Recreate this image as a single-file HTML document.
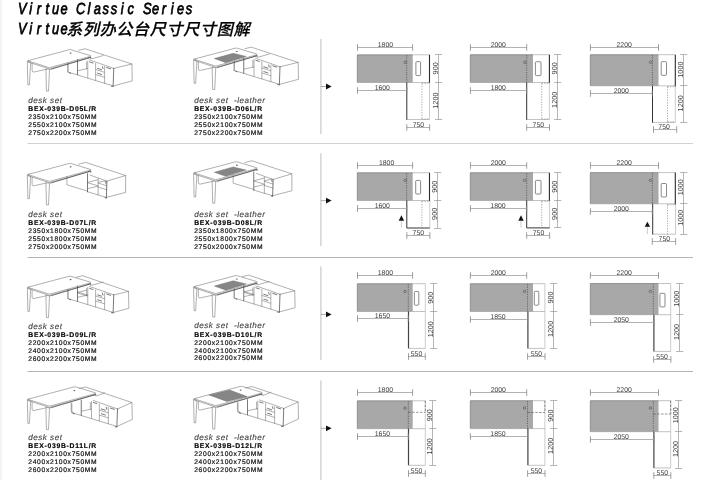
<!DOCTYPE html>
<html lang="zh">
<head>
<meta charset="utf-8">
<title>Virtue Classic Series</title>
<style>
html,body{margin:0;padding:0;background:#fff;}
body{width:720px;height:480px;overflow:hidden;position:relative;font-family:"Liberation Sans",sans-serif;}
#edge{position:absolute;left:0;top:0;width:1.5px;height:480px;background:#f3f3f3;}
svg{position:absolute;left:0;top:0;}
body{filter:grayscale(1);}
svg text{font-family:"Liberation Sans",sans-serif;text-rendering:geometricPrecision;}
.tt{font-size:16px;font-style:italic;fill:#000;stroke:#000;stroke-width:0.75px;}
.dm{font-size:6.9px;fill:#3c3c3c;}
.dv{font-size:7.3px;}
.ds{font-size:8.1px;font-style:italic;fill:#444;stroke:#444;stroke-width:0.12px;}
.bx{font-size:6.8px;font-weight:bold;fill:#000;stroke:#000;stroke-width:0.15px;}
.sz{font-size:6.7px;fill:#141414;stroke:#141414;stroke-width:0.22px;}
.ln{stroke:#6e6e6e;stroke-width:0.55;fill:none;stroke-linejoin:round;stroke-linecap:round;}
.lk{stroke:#404040;stroke-width:0.7;fill:none;stroke-linecap:round;}
</style>
</head>
<body>
<div id="edge"></div>
<svg width="720" height="480" viewBox="0 0 720 480">
<title>Virtue系列办公台尺寸尺寸图解</title>
<line x1="27.5" y1="143.5" x2="693" y2="143.5" stroke="#d2d2d2" stroke-width="1"/>
<line x1="27.5" y1="257.5" x2="693" y2="257.5" stroke="#b4b4b4" stroke-width="1"/>
<line x1="27.5" y1="371.5" x2="693" y2="371.5" stroke="#b4b4b4" stroke-width="1"/>
<line x1="320.9" y1="39" x2="320.9" y2="134" stroke="#d4d4d4" stroke-width="1.5"/>
<line x1="320.8" y1="86.5" x2="327" y2="86.5" stroke="#777" stroke-width="0.6"/>
<path d="M326 83.6L331.6 86.5L326 89.4Z" fill="#111"/>
<line x1="320.9" y1="153.3" x2="320.9" y2="246" stroke="#d4d4d4" stroke-width="1.5"/>
<line x1="320.8" y1="200.6" x2="327" y2="200.6" stroke="#777" stroke-width="0.6"/>
<path d="M326 197.7L331.6 200.6L326 203.5Z" fill="#111"/>
<line x1="320.9" y1="266.5" x2="320.9" y2="360" stroke="#d4d4d4" stroke-width="1.5"/>
<line x1="320.8" y1="314.4" x2="327" y2="314.4" stroke="#777" stroke-width="0.6"/>
<path d="M326 311.5L331.6 314.4L326 317.3Z" fill="#111"/>
<line x1="320.9" y1="380.4" x2="320.9" y2="480" stroke="#d4d4d4" stroke-width="1.5"/>
<line x1="320.8" y1="428.3" x2="327" y2="428.3" stroke="#777" stroke-width="0.6"/>
<path d="M326 425.4L331.6 428.3L326 431.2Z" fill="#111"/>
<rect x="357.3" y="54.8" width="55.4" height="27.7" fill="#a8a8a8"/>
<path d="M357.3 82.5V54.8H412.7" stroke="#6a6a6a" stroke-width="0.6" fill="none"/>
<path d="M357.3 82.5H412.7" stroke="#8a8a8a" stroke-width="0.5" fill="none"/>
<path d="M412.7 54.8H429.5M412.7 82.5H429.5" stroke="#9a9a9a" stroke-width="0.6" fill="none"/>
<line x1="429.5" y1="54.8" x2="429.5" y2="83.1" stroke="#2a2a2a" stroke-width="1.1"/>
<line x1="406.7" y1="55.3" x2="406.7" y2="82.5" stroke="#484848" stroke-width="0.7" stroke-dasharray="1.2 1.2"/>
<circle cx="405.2" cy="62.3" r="1.25" fill="none" stroke="#444" stroke-width="0.55"/>
<line x1="429.5" y1="82.5" x2="429.5" y2="119.5" stroke="#aaa" stroke-width="0.6"/>
<line x1="406.8" y1="119.5" x2="429.5" y2="119.5" stroke="#9a9a9a" stroke-width="0.6"/>
<line x1="406.8" y1="82.5" x2="406.8" y2="119.8" stroke="#333" stroke-width="1"/>
<path d="M421.9 83.4V119.5M421.9 83.4H429.5M421.9 119H429.5" stroke="#777" stroke-width="0.6" stroke-dasharray="1.3 1.3" fill="none"/>
<rect x="415.9" y="61.6" width="4.7" height="14" rx="0.9" fill="#fff" stroke="#585858" stroke-width="0.7"/>
<path d="M357.5 47.5H412.6" stroke="#b2b2b2" stroke-width="1" fill="none"/>
<path d="M357.5 44.2V50.8M412.6 44.2V50.8" stroke="#858585" stroke-width="0.8" fill="none"/>
<text x="385.4" y="46.7" text-anchor="middle" class="dm">1800</text>
<path d="M357.5 90.5H406.8" stroke="#b2b2b2" stroke-width="1" fill="none"/>
<path d="M357.5 87.2V93.8M406.8 87.2V93.8" stroke="#858585" stroke-width="0.8" fill="none"/>
<text x="382.3" y="89.7" text-anchor="middle" class="dm">1600</text>
<path d="M406.8 127.5H429.6" stroke="#b2b2b2" stroke-width="1" fill="none"/>
<path d="M406.8 124.2V130.8M429.6 124.2V130.8" stroke="#858585" stroke-width="0.8" fill="none"/>
<text x="418.4" y="126.5" text-anchor="middle" class="dm">750</text>
<path d="M438.5 54.8V119.5M435.1 54.5H442.3M435.1 82.5H442.3M435.1 119.5H442.3" stroke="#969696" stroke-width="0.7" fill="none"/>
<text transform="translate(438.1 68.3) rotate(-90)" text-anchor="middle" class="dm dv">900</text>
<text transform="translate(438.1 100.6) rotate(-90)" text-anchor="middle" class="dm dv">1200</text>
<rect x="470.3" y="54.7" width="62.7" height="27.8" fill="#a8a8a8"/>
<path d="M470.3 82.5V54.7H533" stroke="#6a6a6a" stroke-width="0.6" fill="none"/>
<path d="M470.3 82.5H533" stroke="#8a8a8a" stroke-width="0.5" fill="none"/>
<path d="M533 54.7H549.4M533 82.5H549.4" stroke="#9a9a9a" stroke-width="0.6" fill="none"/>
<line x1="549.4" y1="54.7" x2="549.4" y2="83.1" stroke="#2a2a2a" stroke-width="1.1"/>
<line x1="526.7" y1="55.2" x2="526.7" y2="82.5" stroke="#484848" stroke-width="0.7" stroke-dasharray="1.2 1.2"/>
<circle cx="524.8" cy="62.3" r="1.25" fill="none" stroke="#444" stroke-width="0.55"/>
<line x1="549.4" y1="82.5" x2="549.4" y2="119.5" stroke="#aaa" stroke-width="0.6"/>
<line x1="526.7" y1="119.5" x2="549.4" y2="119.5" stroke="#9a9a9a" stroke-width="0.6"/>
<line x1="526.7" y1="82.5" x2="526.7" y2="119.8" stroke="#333" stroke-width="1"/>
<path d="M541.7 83.4V119.5M541.7 83.4H549.4M541.7 119H549.4" stroke="#777" stroke-width="0.6" stroke-dasharray="1.3 1.3" fill="none"/>
<rect x="535.4" y="61.7" width="5.6" height="13.9" rx="0.9" fill="#fff" stroke="#585858" stroke-width="0.7"/>
<path d="M470.4 47.5H526.7" stroke="#b2b2b2" stroke-width="1" fill="none"/>
<path d="M470.4 44.2V50.8M526.7 44.2V50.8" stroke="#858585" stroke-width="0.8" fill="none"/>
<text x="498.3" y="46.7" text-anchor="middle" class="dm">2000</text>
<path d="M470.4 90.5H526.7" stroke="#b2b2b2" stroke-width="1" fill="none"/>
<path d="M470.4 87.2V93.8M526.7 87.2V93.8" stroke="#858585" stroke-width="0.8" fill="none"/>
<text x="498.3" y="89.7" text-anchor="middle" class="dm">1800</text>
<path d="M526.7 127.5H549.5" stroke="#b2b2b2" stroke-width="1" fill="none"/>
<path d="M526.7 124.2V130.8M549.5 124.2V130.8" stroke="#858585" stroke-width="0.8" fill="none"/>
<text x="538.3" y="126.5" text-anchor="middle" class="dm">750</text>
<path d="M557.5 54.7V119.5M554.1 54.5H561.3M554.1 82.5H561.3M554.1 119.5H561.3" stroke="#969696" stroke-width="0.7" fill="none"/>
<text transform="translate(557.1 68.3) rotate(-90)" text-anchor="middle" class="dm dv">900</text>
<text transform="translate(557.1 99.8) rotate(-90)" text-anchor="middle" class="dm dv">1200</text>
<rect x="590.3" y="54.7" width="68.2" height="31.1" fill="#a8a8a8"/>
<path d="M590.3 85.8V54.7H658.5" stroke="#6a6a6a" stroke-width="0.6" fill="none"/>
<path d="M590.3 85.8H658.5" stroke="#8a8a8a" stroke-width="0.5" fill="none"/>
<path d="M658.5 54.7H675.3M658.5 85.8H675.3" stroke="#9a9a9a" stroke-width="0.6" fill="none"/>
<line x1="675.3" y1="54.7" x2="675.3" y2="86.4" stroke="#2a2a2a" stroke-width="1.1"/>
<line x1="652.4" y1="55.2" x2="652.4" y2="85.8" stroke="#484848" stroke-width="0.7" stroke-dasharray="1.2 1.2"/>
<circle cx="650.6" cy="62.3" r="1.25" fill="none" stroke="#444" stroke-width="0.55"/>
<line x1="675.3" y1="85.8" x2="675.3" y2="122.4" stroke="#aaa" stroke-width="0.6"/>
<line x1="652.5" y1="122.4" x2="675.3" y2="122.4" stroke="#9a9a9a" stroke-width="0.6"/>
<line x1="652.5" y1="85.8" x2="652.5" y2="122.7" stroke="#333" stroke-width="1"/>
<path d="M667.5 86.7V122.4M667.5 86.7H675.3M667.5 121.9H675.3" stroke="#777" stroke-width="0.6" stroke-dasharray="1.3 1.3" fill="none"/>
<rect x="661.2" y="61.7" width="5.3" height="13.6" rx="0.9" fill="#fff" stroke="#585858" stroke-width="0.7"/>
<path d="M590.4 47.5H658.5" stroke="#b2b2b2" stroke-width="1" fill="none"/>
<path d="M590.4 44.2V50.8M658.5 44.2V50.8" stroke="#858585" stroke-width="0.8" fill="none"/>
<text x="624.2" y="46.7" text-anchor="middle" class="dm">2200</text>
<path d="M590.4 93.5H652.3" stroke="#b2b2b2" stroke-width="1" fill="none"/>
<path d="M590.4 90.2V96.8M652.3 90.2V96.8" stroke="#858585" stroke-width="0.8" fill="none"/>
<text x="621.3" y="92.7" text-anchor="middle" class="dm">2000</text>
<path d="M653.5 129.5H676.7" stroke="#b2b2b2" stroke-width="1" fill="none"/>
<path d="M653.5 126.2V132.8M676.7 126.2V132.8" stroke="#858585" stroke-width="0.8" fill="none"/>
<text x="664.1" y="128.5" text-anchor="middle" class="dm">750</text>
<path d="M683.5 54.7V122.4M680.1 54.5H687.3M680.1 85.5H687.3M680.1 122.5H687.3" stroke="#969696" stroke-width="0.7" fill="none"/>
<text transform="translate(683.1 69.6) rotate(-90)" text-anchor="middle" class="dm dv">1000</text>
<text transform="translate(683.1 103.3) rotate(-90)" text-anchor="middle" class="dm dv">1200</text>
<rect x="357.3" y="172.75" width="55.4" height="27.75" fill="#a8a8a8"/>
<path d="M357.3 200.5V172.75H412.7" stroke="#6a6a6a" stroke-width="0.6" fill="none"/>
<path d="M357.3 200.5H412.7" stroke="#8a8a8a" stroke-width="0.5" fill="none"/>
<path d="M412.7 172.75H429.5M412.7 200.5H429.5" stroke="#9a9a9a" stroke-width="0.6" fill="none"/>
<line x1="429.5" y1="172.75" x2="429.5" y2="201.1" stroke="#2a2a2a" stroke-width="1.1"/>
<line x1="406.7" y1="173.25" x2="406.7" y2="200.5" stroke="#484848" stroke-width="0.7" stroke-dasharray="1.2 1.2"/>
<circle cx="405.2" cy="180.4" r="1.25" fill="none" stroke="#444" stroke-width="0.55"/>
<line x1="429.8" y1="200.5" x2="429.8" y2="228" stroke="#aaa" stroke-width="0.6"/>
<path d="M406.8 200.5V228H429.8" stroke="#333" stroke-width="1" fill="none"/>
<path d="M421.9 201.4V228M421.9 201.4H429.8" stroke="#777" stroke-width="0.6" stroke-dasharray="1.3 1.3" fill="none"/>
<rect x="415.7" y="180.4" width="4.9" height="13.6" rx="0.9" fill="#fff" stroke="#585858" stroke-width="0.7"/>
<path d="M357.5 165.5H412.6" stroke="#b2b2b2" stroke-width="1" fill="none"/>
<path d="M357.5 162.2V168.8M412.6 162.2V168.8" stroke="#858585" stroke-width="0.8" fill="none"/>
<text x="386.6" y="164.7" text-anchor="middle" class="dm">1800</text>
<path d="M357.5 208.5H406.8" stroke="#b2b2b2" stroke-width="1" fill="none"/>
<path d="M357.5 205.2V211.8M406.8 205.2V211.8" stroke="#858585" stroke-width="0.8" fill="none"/>
<text x="382.3" y="207.7" text-anchor="middle" class="dm">1600</text>
<path d="M406.8 235.5H429.9" stroke="#b2b2b2" stroke-width="1" fill="none"/>
<path d="M406.8 232.2V238.8M429.9 232.2V238.8" stroke="#858585" stroke-width="0.8" fill="none"/>
<text x="418.3" y="234.5" text-anchor="middle" class="dm">750</text>
<path d="M437.5 172.75V228M434.1 172.5H441.3M434.1 200.5H441.3M434.1 228.5H441.3" stroke="#969696" stroke-width="0.7" fill="none"/>
<text transform="translate(437.1 186.7) rotate(-90)" text-anchor="middle" class="dm dv">900</text>
<text transform="translate(437.1 213.8) rotate(-90)" text-anchor="middle" class="dm dv">900</text>
<line x1="401.4" y1="220.7" x2="401.4" y2="227.5" stroke="#aaa" stroke-width="0.6"/>
<path d="M398.7 220.7L401.4 215.2L404.1 220.7Z" fill="#111"/>
<rect x="470.3" y="172.7" width="62.7" height="27.8" fill="#a8a8a8"/>
<path d="M470.3 200.5V172.7H533" stroke="#6a6a6a" stroke-width="0.6" fill="none"/>
<path d="M470.3 200.5H533" stroke="#8a8a8a" stroke-width="0.5" fill="none"/>
<path d="M533 172.7H549.4M533 200.5H549.4" stroke="#9a9a9a" stroke-width="0.6" fill="none"/>
<line x1="549.4" y1="172.7" x2="549.4" y2="201.1" stroke="#2a2a2a" stroke-width="1.1"/>
<line x1="526.7" y1="173.2" x2="526.7" y2="200.5" stroke="#484848" stroke-width="0.7" stroke-dasharray="1.2 1.2"/>
<circle cx="524.6" cy="180.4" r="1.25" fill="none" stroke="#444" stroke-width="0.55"/>
<line x1="549.6" y1="200.5" x2="549.6" y2="227.9" stroke="#aaa" stroke-width="0.6"/>
<path d="M526.7 200.5V227.9H549.6" stroke="#333" stroke-width="1" fill="none"/>
<path d="M541.7 201.4V227.9M541.7 201.4H549.6" stroke="#777" stroke-width="0.6" stroke-dasharray="1.3 1.3" fill="none"/>
<rect x="535.4" y="180.4" width="5.6" height="13.6" rx="0.9" fill="#fff" stroke="#585858" stroke-width="0.7"/>
<path d="M470.4 165.5H526.7" stroke="#b2b2b2" stroke-width="1" fill="none"/>
<path d="M470.4 162.2V168.8M526.7 162.2V168.8" stroke="#858585" stroke-width="0.8" fill="none"/>
<text x="498.3" y="164.7" text-anchor="middle" class="dm">2000</text>
<path d="M470.4 208.5H526.7" stroke="#b2b2b2" stroke-width="1" fill="none"/>
<path d="M470.4 205.2V211.8M526.7 205.2V211.8" stroke="#858585" stroke-width="0.8" fill="none"/>
<text x="498" y="207.7" text-anchor="middle" class="dm">1800</text>
<path d="M526.7 235.5H549.6" stroke="#b2b2b2" stroke-width="1" fill="none"/>
<path d="M526.7 232.2V238.8M549.6 232.2V238.8" stroke="#858585" stroke-width="0.8" fill="none"/>
<text x="538.5" y="234.5" text-anchor="middle" class="dm">750</text>
<path d="M557.5 172.7V227.9M554.1 172.5H561.3M554.1 200.5H561.3M554.1 227.5H561.3" stroke="#969696" stroke-width="0.7" fill="none"/>
<text transform="translate(557.1 186.7) rotate(-90)" text-anchor="middle" class="dm dv">900</text>
<text transform="translate(557.1 213.8) rotate(-90)" text-anchor="middle" class="dm dv">900</text>
<line x1="521" y1="220.7" x2="521" y2="227.5" stroke="#aaa" stroke-width="0.6"/>
<path d="M518.3 220.7L521 215.2L523.7 220.7Z" fill="#111"/>
<rect x="590.3" y="172.6" width="68.2" height="31.2" fill="#a8a8a8"/>
<path d="M590.3 203.8V172.6H658.5" stroke="#6a6a6a" stroke-width="0.6" fill="none"/>
<path d="M590.3 203.8H658.5" stroke="#8a8a8a" stroke-width="0.5" fill="none"/>
<path d="M658.5 172.6H675.3M658.5 203.8H675.3" stroke="#9a9a9a" stroke-width="0.6" fill="none"/>
<line x1="675.3" y1="172.6" x2="675.3" y2="204.4" stroke="#2a2a2a" stroke-width="1.1"/>
<line x1="652.4" y1="173.1" x2="652.4" y2="203.8" stroke="#484848" stroke-width="0.7" stroke-dasharray="1.2 1.2"/>
<circle cx="650.4" cy="180.4" r="1.25" fill="none" stroke="#444" stroke-width="0.55"/>
<line x1="675.6" y1="203.8" x2="675.6" y2="234.2" stroke="#aaa" stroke-width="0.6"/>
<line x1="652.7" y1="234.2" x2="675.6" y2="234.2" stroke="#9a9a9a" stroke-width="0.6"/>
<line x1="652.7" y1="203.8" x2="652.7" y2="234.5" stroke="#333" stroke-width="1"/>
<path d="M667.5 204.7V234.2M667.5 204.7H675.6" stroke="#777" stroke-width="0.6" stroke-dasharray="1.3 1.3" fill="none"/>
<rect x="661.2" y="183.5" width="5.3" height="13.5" rx="0.9" fill="#fff" stroke="#585858" stroke-width="0.7"/>
<path d="M590.4 165.5H658.5" stroke="#b2b2b2" stroke-width="1" fill="none"/>
<path d="M590.4 162.2V168.8M658.5 162.2V168.8" stroke="#858585" stroke-width="0.8" fill="none"/>
<text x="624.2" y="164.7" text-anchor="middle" class="dm">2200</text>
<path d="M590.4 211.5H652.3" stroke="#b2b2b2" stroke-width="1" fill="none"/>
<path d="M590.4 208.2V214.8M652.3 208.2V214.8" stroke="#858585" stroke-width="0.8" fill="none"/>
<text x="621.3" y="210.7" text-anchor="middle" class="dm">2000</text>
<path d="M652.3 241.5H675.6" stroke="#b2b2b2" stroke-width="1" fill="none"/>
<path d="M652.3 238.2V244.8M675.6 238.2V244.8" stroke="#858585" stroke-width="0.8" fill="none"/>
<text x="664.3" y="240.5" text-anchor="middle" class="dm">750</text>
<path d="M683.5 172.6V234.2M680.1 172.5H687.3M680.1 203.5H687.3M680.1 234.5H687.3" stroke="#969696" stroke-width="0.7" fill="none"/>
<text transform="translate(683.1 187.2) rotate(-90)" text-anchor="middle" class="dm dv">1000</text>
<text transform="translate(683.1 217.7) rotate(-90)" text-anchor="middle" class="dm dv">1000</text>
<line x1="647.4" y1="226.8" x2="647.4" y2="234" stroke="#aaa" stroke-width="0.6"/>
<path d="M644.7 226.8L647.4 221.7L650.1 226.8Z" fill="#111"/>
<rect x="357.3" y="283.7" width="55.4" height="27.8" fill="#a8a8a8"/>
<path d="M357.3 311.5V283.7H412.7" stroke="#6a6a6a" stroke-width="0.6" fill="none"/>
<path d="M357.3 311.5H412.7" stroke="#8a8a8a" stroke-width="0.5" fill="none"/>
<path d="M412.7 283.7H425.3M412.7 311.5H425.3" stroke="#9a9a9a" stroke-width="0.6" fill="none"/>
<line x1="425.3" y1="283.7" x2="425.3" y2="348.4" stroke="#a8a8a8" stroke-width="0.6"/>
<line x1="408.3" y1="284.2" x2="408.3" y2="311.5" stroke="#484848" stroke-width="0.7" stroke-dasharray="1.2 1.2"/>
<circle cx="405" cy="291.5" r="1.25" fill="none" stroke="#444" stroke-width="0.55"/>
<line x1="408.5" y1="311.5" x2="408.5" y2="348.4" stroke="#444" stroke-width="1.2"/>
<line x1="408.5" y1="348.4" x2="425.3" y2="348.4" stroke="#999" stroke-width="0.6"/>
<rect x="414.4" y="291.5" width="4.4" height="13.7" rx="0.9" fill="#fff" stroke="#585858" stroke-width="0.7"/>
<path d="M357.5 275.5H412.6" stroke="#b2b2b2" stroke-width="1" fill="none"/>
<path d="M357.5 272.2V278.8M412.6 272.2V278.8" stroke="#858585" stroke-width="0.8" fill="none"/>
<text x="385.4" y="274.7" text-anchor="middle" class="dm">1800</text>
<path d="M357.5 318.5H408.3" stroke="#b2b2b2" stroke-width="1" fill="none"/>
<path d="M357.5 315.2V321.8M408.3 315.2V321.8" stroke="#858585" stroke-width="0.8" fill="none"/>
<text x="382.4" y="317.7" text-anchor="middle" class="dm">1650</text>
<path d="M408.5 356.5H425.3" stroke="#b2b2b2" stroke-width="1" fill="none"/>
<path d="M408.5 353.2V359.8M425.3 353.2V359.8" stroke="#858585" stroke-width="0.8" fill="none"/>
<text x="416.5" y="355.5" text-anchor="middle" class="dm">550</text>
<path d="M433.5 283.7V348.4M430.1 283.5H437.3M430.1 311.5H437.3M430.1 348.5H437.3" stroke="#969696" stroke-width="0.7" fill="none"/>
<text transform="translate(433.1 297.7) rotate(-90)" text-anchor="middle" class="dm dv">900</text>
<text transform="translate(433.1 329.2) rotate(-90)" text-anchor="middle" class="dm dv">1200</text>
<rect x="470.3" y="283.7" width="62.7" height="27.8" fill="#a8a8a8"/>
<path d="M470.3 311.5V283.7H533" stroke="#6a6a6a" stroke-width="0.6" fill="none"/>
<path d="M470.3 311.5H533" stroke="#8a8a8a" stroke-width="0.5" fill="none"/>
<path d="M533 283.7H544.9M533 311.5H544.9" stroke="#9a9a9a" stroke-width="0.6" fill="none"/>
<line x1="544.9" y1="283.7" x2="544.9" y2="348.4" stroke="#a8a8a8" stroke-width="0.6"/>
<line x1="527.5" y1="284.2" x2="527.5" y2="311.5" stroke="#484848" stroke-width="0.7" stroke-dasharray="1.2 1.2"/>
<circle cx="524.5" cy="291.4" r="1.25" fill="none" stroke="#444" stroke-width="0.55"/>
<line x1="527.9" y1="311.5" x2="527.9" y2="348.4" stroke="#444" stroke-width="1.2"/>
<line x1="527.9" y1="348.4" x2="544.9" y2="348.4" stroke="#999" stroke-width="0.6"/>
<rect x="534.3" y="291.3" width="4.5" height="13.9" rx="0.9" fill="#fff" stroke="#585858" stroke-width="0.7"/>
<path d="M470.4 275.5H526.7" stroke="#b2b2b2" stroke-width="1" fill="none"/>
<path d="M470.4 272.2V278.8M526.7 272.2V278.8" stroke="#858585" stroke-width="0.8" fill="none"/>
<text x="498.3" y="274.7" text-anchor="middle" class="dm">2000</text>
<path d="M470.4 319.5H527.5" stroke="#b2b2b2" stroke-width="1" fill="none"/>
<path d="M470.4 316.2V322.8M527.5 316.2V322.8" stroke="#858585" stroke-width="0.8" fill="none"/>
<text x="498" y="318.7" text-anchor="middle" class="dm">1850</text>
<path d="M527.6 356.5H545" stroke="#b2b2b2" stroke-width="1" fill="none"/>
<path d="M527.6 353.2V359.8M545 353.2V359.8" stroke="#858585" stroke-width="0.8" fill="none"/>
<text x="536.4" y="355.5" text-anchor="middle" class="dm">550</text>
<path d="M553.5 283.7V348.4M550.1 283.5H557.3M550.1 311.5H557.3M550.1 348.5H557.3" stroke="#969696" stroke-width="0.7" fill="none"/>
<text transform="translate(553.1 297.5) rotate(-90)" text-anchor="middle" class="dm dv">900</text>
<text transform="translate(553.1 328.9) rotate(-90)" text-anchor="middle" class="dm dv">1200</text>
<rect x="590.3" y="283.5" width="68.2" height="31.2" fill="#a8a8a8"/>
<path d="M590.3 314.7V283.5H658.5" stroke="#6a6a6a" stroke-width="0.6" fill="none"/>
<path d="M590.3 314.7H658.5" stroke="#8a8a8a" stroke-width="0.5" fill="none"/>
<path d="M658.5 283.5H670.7M658.5 314.7H670.7" stroke="#9a9a9a" stroke-width="0.6" fill="none"/>
<line x1="670.7" y1="283.5" x2="670.7" y2="351.4" stroke="#a8a8a8" stroke-width="0.6"/>
<line x1="653.3" y1="284" x2="653.3" y2="314.7" stroke="#484848" stroke-width="0.7" stroke-dasharray="1.2 1.2"/>
<circle cx="650.4" cy="291.4" r="1.25" fill="none" stroke="#444" stroke-width="0.55"/>
<line x1="653.9" y1="314.7" x2="653.9" y2="351.4" stroke="#444" stroke-width="1.2"/>
<line x1="653.9" y1="351.4" x2="670.7" y2="351.4" stroke="#999" stroke-width="0.6"/>
<rect x="659.9" y="293.3" width="5.1" height="13.6" rx="0.9" fill="#fff" stroke="#585858" stroke-width="0.7"/>
<path d="M590.4 275.5H658.5" stroke="#b2b2b2" stroke-width="1" fill="none"/>
<path d="M590.4 272.2V278.8M658.5 272.2V278.8" stroke="#858585" stroke-width="0.8" fill="none"/>
<text x="624.2" y="274.7" text-anchor="middle" class="dm">2200</text>
<path d="M590.4 322.5H654" stroke="#b2b2b2" stroke-width="1" fill="none"/>
<path d="M590.4 319.2V325.8M654 319.2V325.8" stroke="#858585" stroke-width="0.8" fill="none"/>
<text x="621.3" y="321.7" text-anchor="middle" class="dm">2050</text>
<path d="M653.6 359.5H670.9" stroke="#b2b2b2" stroke-width="1" fill="none"/>
<path d="M653.6 356.2V362.8M670.9 356.2V362.8" stroke="#858585" stroke-width="0.8" fill="none"/>
<text x="662.1" y="358.5" text-anchor="middle" class="dm">550</text>
<path d="M679.5 283.5V351.4M676.1 283.5H683.3M676.1 314.5H683.3M676.1 351.5H683.3" stroke="#969696" stroke-width="0.7" fill="none"/>
<text transform="translate(679.1 298.7) rotate(-90)" text-anchor="middle" class="dm dv">1000</text>
<text transform="translate(679.1 332) rotate(-90)" text-anchor="middle" class="dm dv">1200</text>
<rect x="357.3" y="400.8" width="55.4" height="27.9" fill="#a8a8a8"/>
<path d="M357.3 428.7V400.8H412.7" stroke="#6a6a6a" stroke-width="0.6" fill="none"/>
<path d="M357.3 428.7H412.7" stroke="#8a8a8a" stroke-width="0.5" fill="none"/>
<path d="M412.7 400.8H425.3M412.7 428.7H425.3" stroke="#9a9a9a" stroke-width="0.6" fill="none"/>
<line x1="425.3" y1="400.8" x2="425.3" y2="465.3" stroke="#a8a8a8" stroke-width="0.6"/>
<line x1="408.3" y1="401.3" x2="408.3" y2="428.7" stroke="#484848" stroke-width="0.7" stroke-dasharray="1.2 1.2"/>
<circle cx="405" cy="408.2" r="1.25" fill="none" stroke="#444" stroke-width="0.55"/>
<line x1="408.5" y1="428.7" x2="408.5" y2="465.3" stroke="#444" stroke-width="1.2"/>
<line x1="408.5" y1="465.3" x2="425.3" y2="465.3" stroke="#999" stroke-width="0.6"/>
<path d="M408.3 412.3H425.3M425.3 400.8V412.3" stroke="#4a4a4a" stroke-width="0.6" stroke-dasharray="2.4 1.5" fill="none"/>
<path d="M357.5 392.5H412.6" stroke="#b2b2b2" stroke-width="1" fill="none"/>
<path d="M357.5 389.2V395.8M412.6 389.2V395.8" stroke="#858585" stroke-width="0.8" fill="none"/>
<text x="385.4" y="391.7" text-anchor="middle" class="dm">1800</text>
<path d="M357.5 436.5H408.3" stroke="#b2b2b2" stroke-width="1" fill="none"/>
<path d="M357.5 433.2V439.8M408.3 433.2V439.8" stroke="#858585" stroke-width="0.8" fill="none"/>
<text x="382.4" y="435.7" text-anchor="middle" class="dm">1650</text>
<path d="M408.5 473.5H425.3" stroke="#b2b2b2" stroke-width="1" fill="none"/>
<path d="M408.5 470.2V476.8M425.3 470.2V476.8" stroke="#858585" stroke-width="0.8" fill="none"/>
<text x="416.6" y="472.5" text-anchor="middle" class="dm">550</text>
<path d="M432.5 400.8V465.3M429.1 400.5H436.3M429.1 428.5H436.3M429.1 465.5H436.3" stroke="#969696" stroke-width="0.7" fill="none"/>
<text transform="translate(432.1 415.2) rotate(-90)" text-anchor="middle" class="dm dv">900</text>
<text transform="translate(432.1 446.3) rotate(-90)" text-anchor="middle" class="dm dv">1200</text>
<rect x="470.3" y="400.7" width="62.7" height="27.9" fill="#a8a8a8"/>
<path d="M470.3 428.6V400.7H533" stroke="#6a6a6a" stroke-width="0.6" fill="none"/>
<path d="M470.3 428.6H533" stroke="#8a8a8a" stroke-width="0.5" fill="none"/>
<path d="M533 400.7H544.9M533 428.6H544.9" stroke="#9a9a9a" stroke-width="0.6" fill="none"/>
<line x1="544.9" y1="400.7" x2="544.9" y2="465.3" stroke="#a8a8a8" stroke-width="0.6"/>
<line x1="527.5" y1="401.2" x2="527.5" y2="428.6" stroke="#484848" stroke-width="0.7" stroke-dasharray="1.2 1.2"/>
<circle cx="524.5" cy="408" r="1.25" fill="none" stroke="#444" stroke-width="0.55"/>
<line x1="527.9" y1="428.6" x2="527.9" y2="465.3" stroke="#444" stroke-width="1.2"/>
<line x1="527.9" y1="465.3" x2="544.9" y2="465.3" stroke="#999" stroke-width="0.6"/>
<path d="M527.5 412.5H544.9M544.9 400.7V412.5" stroke="#4a4a4a" stroke-width="0.6" stroke-dasharray="2.4 1.5" fill="none"/>
<path d="M470.4 392.5H526.7" stroke="#b2b2b2" stroke-width="1" fill="none"/>
<path d="M470.4 389.2V395.8M526.7 389.2V395.8" stroke="#858585" stroke-width="0.8" fill="none"/>
<text x="498.3" y="391.7" text-anchor="middle" class="dm">2000</text>
<path d="M470.4 436.5H527.5" stroke="#b2b2b2" stroke-width="1" fill="none"/>
<path d="M470.4 433.2V439.8M527.5 433.2V439.8" stroke="#858585" stroke-width="0.8" fill="none"/>
<text x="498" y="435.7" text-anchor="middle" class="dm">1850</text>
<path d="M527.6 473.5H545" stroke="#b2b2b2" stroke-width="1" fill="none"/>
<path d="M527.6 470.2V476.8M545 470.2V476.8" stroke="#858585" stroke-width="0.8" fill="none"/>
<text x="536.4" y="472.5" text-anchor="middle" class="dm">550</text>
<path d="M553.5 400.7V465.3M550.1 400.5H557.3M550.1 428.5H557.3M550.1 465.5H557.3" stroke="#969696" stroke-width="0.7" fill="none"/>
<text transform="translate(553.1 415.6) rotate(-90)" text-anchor="middle" class="dm dv">900</text>
<text transform="translate(553.1 445.8) rotate(-90)" text-anchor="middle" class="dm dv">1200</text>
<rect x="590.3" y="400.7" width="68.2" height="31" fill="#a8a8a8"/>
<path d="M590.3 431.7V400.7H658.5" stroke="#6a6a6a" stroke-width="0.6" fill="none"/>
<path d="M590.3 431.7H658.5" stroke="#8a8a8a" stroke-width="0.5" fill="none"/>
<path d="M658.5 400.7H670.7M658.5 431.7H670.7" stroke="#9a9a9a" stroke-width="0.6" fill="none"/>
<line x1="670.7" y1="400.7" x2="670.7" y2="468" stroke="#a8a8a8" stroke-width="0.6"/>
<line x1="653.3" y1="401.2" x2="653.3" y2="431.7" stroke="#484848" stroke-width="0.7" stroke-dasharray="1.2 1.2"/>
<circle cx="650.4" cy="408" r="1.25" fill="none" stroke="#444" stroke-width="0.55"/>
<line x1="653.9" y1="431.7" x2="653.9" y2="468" stroke="#444" stroke-width="1.2"/>
<line x1="653.9" y1="468" x2="670.7" y2="468" stroke="#999" stroke-width="0.6"/>
<path d="M653.3 414H670.7M670.7 400.7V414" stroke="#4a4a4a" stroke-width="0.6" stroke-dasharray="2.4 1.5" fill="none"/>
<path d="M590.4 392.5H658.5" stroke="#b2b2b2" stroke-width="1" fill="none"/>
<path d="M590.4 389.2V395.8M658.5 389.2V395.8" stroke="#858585" stroke-width="0.8" fill="none"/>
<text x="624.2" y="391.7" text-anchor="middle" class="dm">2200</text>
<path d="M590.4 439.5H654" stroke="#b2b2b2" stroke-width="1" fill="none"/>
<path d="M590.4 436.2V442.8M654 436.2V442.8" stroke="#858585" stroke-width="0.8" fill="none"/>
<text x="621.3" y="438.7" text-anchor="middle" class="dm">2050</text>
<path d="M653.8 475.5H670.8" stroke="#b2b2b2" stroke-width="1" fill="none"/>
<path d="M653.8 472.2V478.8M670.8 472.2V478.8" stroke="#858585" stroke-width="0.8" fill="none"/>
<text x="662.3" y="474.5" text-anchor="middle" class="dm">550</text>
<path d="M678.5 400.7V468M675.1 400.5H682.3M675.1 431.5H682.3M675.1 468.5H682.3" stroke="#969696" stroke-width="0.7" fill="none"/>
<text transform="translate(678.1 415.2) rotate(-90)" text-anchor="middle" class="dm dv">1000</text>
<text transform="translate(678.1 449) rotate(-90)" text-anchor="middle" class="dm dv">1200</text>
<path d="M78.7 50.25L85 48.75L131.9 64L113.75 68.4 M113.75 68.4L89.4 59.9 M91.9 58.75L103.1 55.6 M131.9 64L132.25 80.9L113.15 86 M68.1 72.1L113.15 85.9 M68.1 62.9L68.1 72.1 M87.75 60.9L87.75 77.9 M95.6 63.4L95.6 80.3 M104.6 66.5L104.6 83.1 M78.2 70.6L87.4 68.6 M86.6 62L86.6 68.8 M95.9 69.6L104.4 72.3 M95.9 74.6L104.4 77.3" class="ln"/>
<path d="M32.1 63.4V70.6Q32.2 72.3 34 72L46.3 69.3 M67.75 63.4V71.9" class="ln"/>
<path d="M27.7 61.2L30.6 62.8L29.4 84.9L28.25 84.9Z M46.3 69L49.5 69.3L48.5 91.1L46.8 91.1Z" class="ln" fill="#fff"/>
<path d="M28.75 60.48L68.8 49.82Q70 49.5 71.2 49.86L90.05 55.54Q91.55 56 90.35 56.4L50.8 67.35Q49.4 67.75 48.1 67.33L28.75 61.07Q27.55 60.75 28.75 60.48Z" class="ln" fill="#fff"/>
<path d="M27.85 61.9L49.4 68.95L90.65 57.35" class="ln"/>
<path d="M50.9 69.25L88.75 57.9" class="lk"/>
<path d="M88.65 57.8L90.85 57.2L90.85 58.5" class="lk"/>
<path d="M77.5 59.6L77.5 74.8 M113.75 68.4L113.15 85.9 M89.6 61.9L93 63 M97.6 68.4L101.6 69.7 M97.6 73.2L101.6 74.5 M106.6 67.5L110.6 68.8 M102.4 66.6L103 68.6 M69.4 72.9L70.6 73.3 M111.4 86.2L113 86.5" class="lk"/>
<ellipse cx="70.6" cy="53.1" rx="0.95" ry="0.6" fill="#555"/>
<path d="M244.95 48.65L251.25 47.15L298.15 62.4L280 66.8 M280 66.8L255.65 58.3 M258.15 57.15L269.35 54 M298.15 62.4L298.5 79.3L279.4 84.4 M234.35 70.5L279.4 84.3 M234.35 61.3L234.35 70.5 M254 59.3L254 76.3 M261.85 61.8L261.85 78.7 M270.85 64.9L270.85 81.5 M244.45 69L253.65 67 M252.85 60.4L252.85 67.2 M262.15 68L270.65 70.7 M262.15 73L270.65 75.7" class="ln"/>
<path d="M198.35 61.8V69Q198.45 70.7 200.25 70.4L212.55 67.7 M234 61.8V70.3" class="ln"/>
<path d="M193.95 59.6L196.85 61.2L195.65 83.3L194.5 83.3Z M212.55 67.4L215.75 67.7L214.75 89.5L213.05 89.5Z" class="ln" fill="#fff"/>
<path d="M195 58.88L235.05 48.22Q236.25 47.9 237.45 48.26L256.3 53.94Q257.8 54.4 256.6 54.8L217.05 65.75Q215.65 66.15 214.35 65.73L195 59.47Q193.8 59.15 195 58.88Z" class="ln" fill="#fff"/>
<path d="M194.1 60.3L215.65 67.35L256.9 55.75" class="ln"/>
<path d="M217.15 67.65L255 56.3" class="lk"/>
<path d="M254.9 56.2L257.1 55.6L257.1 56.9" class="lk"/>
<path d="M243.75 58L243.75 73.2 M280 66.8L279.4 84.3 M255.85 60.3L259.25 61.4 M263.85 66.8L267.85 68.1 M263.85 71.6L267.85 72.9 M272.85 65.9L276.85 67.2 M268.65 65L269.25 67 M235.65 71.3L236.85 71.7 M277.65 84.6L279.25 84.9" class="lk"/>
<ellipse cx="236.85" cy="51.5" rx="0.95" ry="0.6" fill="#555"/>
<path d="M214.3 58.55L233.2 53.25L246.25 56.4L225.7 62.65Z" fill="#868686" stroke="#6a6a6a" stroke-width="0.4"/>
<path d="M78.75 164.25L85.6 162.4L125.6 175.5L106.9 181.1 M106.9 181.1L90 175.05 M125.6 175.5L125.6 192.4L106.4 197.35 M87.5 191.75L106.3 197.4 M98.1 178.65L98.1 194.85 M88 182.25L98.1 179.75 M87.8 182.75L98 185.85 M88 188.55L98.1 186.15 M98.2 183.05L106.6 185.65 M98.2 187.15L106.6 189.75 M98.4 182.35L105 180.95 M66.9 176.65L66.9 184.85L87.5 191.05" class="ln"/>
<path d="M32.1 177.15V184.35Q32.2 186.05 34 185.75L46.3 183.05 " class="ln"/>
<path d="M27.7 174.95L30.6 176.55L29.4 198.65L28.25 198.65Z M46.3 182.75L49.5 183.05L48.5 204.85L46.8 204.85Z" class="ln" fill="#fff"/>
<path d="M28.75 174.23L68.8 163.57Q70 163.25 71.2 163.61L90.05 169.29Q91.55 169.75 90.35 170.15L50.8 181.1Q49.4 181.5 48.1 181.08L28.75 174.82Q27.55 174.5 28.75 174.23Z" class="ln" fill="#fff"/>
<path d="M27.85 175.65L49.4 182.7L90.65 171.1" class="ln"/>
<path d="M50.9 183L88.75 171.65" class="lk"/>
<path d="M88.65 171.55L90.85 170.95L90.85 172.25" class="lk"/>
<path d="M87.5 173.65L87.5 191.75 M106.9 181.1L106.4 197.35 M105.4 181.65L105.9 183.35 M105 197.75L106.4 198.05" class="lk"/>
<ellipse cx="70.6" cy="166.85" rx="0.95" ry="0.6" fill="#555"/>
<path d="M245 162.6L251.85 160.75L291.85 173.85L273.15 179.45 M273.15 179.45L256.25 173.4 M291.85 173.85L291.85 190.75L272.65 195.7 M253.75 190.1L272.55 195.75 M264.35 177L264.35 193.2 M254.25 180.6L264.35 178.1 M254.05 181.1L264.25 184.2 M254.25 186.9L264.35 184.5 M264.45 181.4L272.85 184 M264.45 185.5L272.85 188.1 M264.65 180.7L271.25 179.3 M233.15 175L233.15 183.2L253.75 189.4" class="ln"/>
<path d="M198.35 175.5V182.7Q198.45 184.4 200.25 184.1L212.55 181.4 " class="ln"/>
<path d="M193.95 173.3L196.85 174.9L195.65 197L194.5 197Z M212.55 181.1L215.75 181.4L214.75 203.2L213.05 203.2Z" class="ln" fill="#fff"/>
<path d="M195 172.58L235.05 161.92Q236.25 161.6 237.45 161.96L256.3 167.64Q257.8 168.1 256.6 168.5L217.05 179.45Q215.65 179.85 214.35 179.43L195 173.17Q193.8 172.85 195 172.58Z" class="ln" fill="#fff"/>
<path d="M194.1 174L215.65 181.05L256.9 169.45" class="ln"/>
<path d="M217.15 181.35L255 170" class="lk"/>
<path d="M254.9 169.9L257.1 169.3L257.1 170.6" class="lk"/>
<path d="M253.75 172L253.75 190.1 M273.15 179.45L272.65 195.7 M271.65 180L272.15 181.7 M271.25 196.1L272.65 196.4" class="lk"/>
<ellipse cx="236.85" cy="165.2" rx="0.95" ry="0.6" fill="#555"/>
<path d="M214.3 172.25L233.2 166.95L246.25 170.1L225.7 176.35Z" fill="#868686" stroke="#6a6a6a" stroke-width="0.4"/>
<path d="M76.2 277.2L82.5 275.7L128.5 291.4L113.75 294.9 M113.75 294.9L89.4 286.4 M91.9 285.25L103.1 282.1 M128.5 291.4L128.85 308.3L113.15 312.5 M68.1 298.6L113.15 312.4 M68.1 289.4L68.1 298.6 M87.75 287.4L87.75 304.4 M95.6 289.9L95.6 306.8 M104.6 293L104.6 309.6 M78.2 297.1L87.4 295.1 M86.6 288.5L86.6 295.3 M78 292.1L87.6 295.1 M78 293.1L87.6 296.1 M78.2 292.3L86.6 290.3 M95.9 296.1L104.4 298.8 M95.9 301.1L104.4 303.8" class="ln"/>
<path d="M32.1 289.9V297.1Q32.2 298.8 34 298.5L46.3 295.8 M67.75 289.9V298.4" class="ln"/>
<path d="M27.7 287.7L30.6 289.3L29.4 311.4L28.25 311.4Z M46.3 295.5L49.5 295.8L48.5 317.6L46.8 317.6Z" class="ln" fill="#fff"/>
<path d="M28.75 286.98L68.8 276.32Q70 276 71.2 276.36L90.05 282.04Q91.55 282.5 90.35 282.9L50.8 293.85Q49.4 294.25 48.1 293.83L28.75 287.57Q27.55 287.25 28.75 286.98Z" class="ln" fill="#fff"/>
<path d="M27.85 288.4L49.4 295.45L90.65 283.85" class="ln"/>
<path d="M50.9 295.75L88.75 284.4" class="lk"/>
<path d="M88.65 284.3L90.85 283.7L90.85 285" class="lk"/>
<path d="M77.5 286.1L77.5 301.3 M113.75 294.9L113.15 312.4 M89.6 288.4L93 289.5 M97.6 294.9L101.6 296.2 M97.6 299.7L101.6 301 M106.6 294L110.6 295.3 M102.4 293.1L103 295.1 M69.4 299.4L70.6 299.8 M111.4 312.7L113 313" class="lk"/>
<ellipse cx="70.6" cy="279.6" rx="0.95" ry="0.6" fill="#555"/>
<path d="M242.45 276.6L248.75 275.1L294.75 290.8L280 294.3 M280 294.3L255.65 285.8 M258.15 284.65L269.35 281.5 M294.75 290.8L295.1 307.7L279.4 311.9 M234.35 298L279.4 311.8 M234.35 288.8L234.35 298 M254 286.8L254 303.8 M261.85 289.3L261.85 306.2 M270.85 292.4L270.85 309 M244.45 296.5L253.65 294.5 M252.85 287.9L252.85 294.7 M244.25 291.5L253.85 294.5 M244.25 292.5L253.85 295.5 M244.45 291.7L252.85 289.7 M262.15 295.5L270.65 298.2 M262.15 300.5L270.65 303.2" class="ln"/>
<path d="M198.35 289.3V296.5Q198.45 298.2 200.25 297.9L212.55 295.2 M234 289.3V297.8" class="ln"/>
<path d="M193.95 287.1L196.85 288.7L195.65 310.8L194.5 310.8Z M212.55 294.9L215.75 295.2L214.75 317L213.05 317Z" class="ln" fill="#fff"/>
<path d="M195 286.38L235.05 275.72Q236.25 275.4 237.45 275.76L256.3 281.44Q257.8 281.9 256.6 282.3L217.05 293.25Q215.65 293.65 214.35 293.23L195 286.97Q193.8 286.65 195 286.38Z" class="ln" fill="#fff"/>
<path d="M194.1 287.8L215.65 294.85L256.9 283.25" class="ln"/>
<path d="M217.15 295.15L255 283.8" class="lk"/>
<path d="M254.9 283.7L257.1 283.1L257.1 284.4" class="lk"/>
<path d="M243.75 285.5L243.75 300.7 M280 294.3L279.4 311.8 M255.85 287.8L259.25 288.9 M263.85 294.3L267.85 295.6 M263.85 299.1L267.85 300.4 M272.85 293.4L276.85 294.7 M268.65 292.5L269.25 294.5 M235.65 298.8L236.85 299.2 M277.65 312.1L279.25 312.4" class="lk"/>
<ellipse cx="236.85" cy="279" rx="0.95" ry="0.6" fill="#555"/>
<path d="M214.3 286.05L233.2 280.75L246.25 283.9L225.7 290.15Z" fill="#868686" stroke="#6a6a6a" stroke-width="0.4"/>
<path d="M79.3 388.5L85.6 387L131.9 402.5L117.5 408.94 M117.5 408.94L93.15 400.44 M96.9 395.92L104.6 392.77 M131.9 402.5L132.25 419.4L116.9 426.54 M71.85 412.64L116.9 426.44 M71.85 403.44L71.85 412.64 M91.5 401.44L91.5 418.44 M99.35 403.94L99.35 420.84 M108.35 407.04L108.35 423.64 M81.95 411.14L91.15 409.14 M90.35 402.54L90.35 409.34 M99.65 410.14L108.15 412.84 M99.65 415.14L108.15 417.84" class="ln"/>
<path d="M32.1 401.9V409.1Q32.2 410.8 34 410.5L46.3 407.8 M71.2 402.7V410.7Q71.3 412.1 73.2 412.5" class="ln"/>
<path d="M27.7 399.7L30.6 401.3L29.4 423.4L28.25 423.4Z M46.3 407.5L49.5 407.8L48.5 429.6L46.8 429.6Z" class="ln" fill="#fff"/>
<path d="M28.75 398.98L73.8 386.99Q75 386.67 76.2 387.03L95.05 392.71Q96.55 393.17 95.35 393.57L50.8 405.85Q49.4 406.25 48.1 405.83L28.75 399.57Q27.55 399.25 28.75 398.98Z" class="ln" fill="#fff"/>
<path d="M27.85 400.4L49.4 407.45L95.65 394.52" class="ln"/>
<path d="M50.9 407.75L93.75 395.07" class="lk"/>
<path d="M93.65 394.97L95.85 394.37L95.85 395.67" class="lk"/>
<path d="M81.25 400.14L81.25 415.34 M117.5 408.94L116.9 426.44 M93.35 402.44L96.75 403.54 M101.35 408.94L105.35 410.24 M101.35 413.74L105.35 415.04 M110.35 408.04L114.35 409.34 M106.15 407.14L106.75 409.14 M73.15 413.44L74.35 413.84 M115.15 426.74L116.75 427.04" class="lk"/>
<ellipse cx="74.35" cy="390.6" rx="0.95" ry="0.6" fill="#555"/>
<path d="M245.55 388L251.85 386.5L298.15 402L283.75 408.44 M283.75 408.44L259.4 399.94 M263.15 395.42L270.85 392.27 M298.15 402L298.5 418.9L283.15 426.04 M238.1 412.14L283.15 425.94 M238.1 402.94L238.1 412.14 M257.75 400.94L257.75 417.94 M265.6 403.44L265.6 420.34 M274.6 406.54L274.6 423.14 M248.2 410.64L257.4 408.64 M256.6 402.04L256.6 408.84 M265.9 409.64L274.4 412.34 M265.9 414.64L274.4 417.34" class="ln"/>
<path d="M198.35 401.4V408.6Q198.45 410.3 200.25 410L212.55 407.3 M237.45 402.2V410.2Q237.55 411.6 239.45 412" class="ln"/>
<path d="M193.95 399.2L196.85 400.8L195.65 422.9L194.5 422.9Z M212.55 407L215.75 407.3L214.75 429.1L213.05 429.1Z" class="ln" fill="#fff"/>
<path d="M195 398.48L240.05 386.49Q241.25 386.17 242.45 386.53L261.3 392.21Q262.8 392.67 261.6 393.07L217.05 405.35Q215.65 405.75 214.35 405.33L195 399.07Q193.8 398.75 195 398.48Z" class="ln" fill="#fff"/>
<path d="M194.1 399.9L215.65 406.95L261.9 394.02" class="ln"/>
<path d="M217.15 407.25L260 394.57" class="lk"/>
<path d="M259.9 394.47L262.1 393.87L262.1 395.17" class="lk"/>
<path d="M247.5 399.64L247.5 414.84 M283.75 408.44L283.15 425.94 M259.6 401.94L263 403.04 M267.6 408.44L271.6 409.74 M267.6 413.24L271.6 414.54 M276.6 407.54L280.6 408.84 M272.4 406.64L273 408.64 M239.4 412.94L240.6 413.34 M281.4 426.24L283 426.54" class="lk"/>
<ellipse cx="240.6" cy="390.1" rx="0.95" ry="0.6" fill="#555"/>
<path d="M208.8 394.9L229.7 390L247.2 396.55L226.8 401.4Z" fill="#868686" stroke="#6a6a6a" stroke-width="0.4"/>
<text class="tt" transform="translate(0 13.6) scale(0.8 1)" text-anchor="middle" x="27.88 38.29 48.7 59.11 69.53 79.94 90.35 100.76 111.17 121.59 132 142.41 152.82 163.24 173.65 184.06 194.47 204.89 215.3 225.71 236.12">Virtue Classic Series</text>
<text class="tt" transform="translate(0 34) scale(0.8 1)" text-anchor="middle" x="27.88 38.29 48.7 59.11 69.53 79.94">Virtue</text>
<text transform="translate(0 34.5) skewX(-13)" y="0" x="66.2 82.92 99.64 116.36 133.08 149.8 166.52 183.24 199.96 216.68 233.4" style="font-family:'Liberation Sans','Noto Sans CJK SC',sans-serif;font-size:16.1px;font-weight:500;fill:#000;stroke:#000;stroke-width:0.22px;">系列办公台尺寸尺寸图解</text>
<text x="28.3" y="102.8" class="ds" textLength="33.6" lengthAdjust="spacing">desk set</text>
<text x="28.3" y="111" class="bx" textLength="67.9" lengthAdjust="spacing">BEX-039B-D05L/R</text>
<text x="28.3" y="119.3" class="sz" textLength="68.4" lengthAdjust="spacing">2350x2100x750MM</text>
<text x="28.3" y="127.1" class="sz" textLength="68.4" lengthAdjust="spacing">2550x2100x750MM</text>
<text x="28.3" y="134.9" class="sz" textLength="68.4" lengthAdjust="spacing">2750x2200x750MM</text>
<text x="194.2" y="102.8" class="ds" textLength="70.8" lengthAdjust="spacing" xml:space="preserve">desk set  -leather</text>
<text x="194.2" y="111" class="bx" textLength="67.9" lengthAdjust="spacing">BEX-039B-D06L/R</text>
<text x="194.2" y="119.3" class="sz" textLength="68.4" lengthAdjust="spacing">2350x2100x750MM</text>
<text x="194.2" y="127.1" class="sz" textLength="68.4" lengthAdjust="spacing">2550x2100x750MM</text>
<text x="194.2" y="134.9" class="sz" textLength="68.4" lengthAdjust="spacing">2750x2200x750MM</text>
<text x="28.3" y="216.5" class="ds" textLength="33.6" lengthAdjust="spacing">desk set</text>
<text x="28.3" y="224.7" class="bx" textLength="67.9" lengthAdjust="spacing">BEX-039B-D07L/R</text>
<text x="28.3" y="233" class="sz" textLength="68.4" lengthAdjust="spacing">2350x1800x750MM</text>
<text x="28.3" y="240.8" class="sz" textLength="68.4" lengthAdjust="spacing">2550x1800x750MM</text>
<text x="28.3" y="248.6" class="sz" textLength="68.4" lengthAdjust="spacing">2750x2000x750MM</text>
<text x="194.2" y="216.5" class="ds" textLength="70.8" lengthAdjust="spacing" xml:space="preserve">desk set  -leather</text>
<text x="194.2" y="224.7" class="bx" textLength="67.9" lengthAdjust="spacing">BEX-039B-D08L/R</text>
<text x="194.2" y="233" class="sz" textLength="68.4" lengthAdjust="spacing">2350x1800x750MM</text>
<text x="194.2" y="240.8" class="sz" textLength="68.4" lengthAdjust="spacing">2550x1800x750MM</text>
<text x="194.2" y="248.6" class="sz" textLength="68.4" lengthAdjust="spacing">2750x2000x750MM</text>
<text x="28.3" y="328.8" class="ds" textLength="33.6" lengthAdjust="spacing">desk set</text>
<text x="28.3" y="337" class="bx" textLength="67.9" lengthAdjust="spacing">BEX-039B-D09L/R</text>
<text x="28.3" y="345.3" class="sz" textLength="68.4" lengthAdjust="spacing">2200x2100x750MM</text>
<text x="28.3" y="353.1" class="sz" textLength="68.4" lengthAdjust="spacing">2400x2100x750MM</text>
<text x="28.3" y="360.9" class="sz" textLength="68.4" lengthAdjust="spacing">2600x2200x750MM</text>
<text x="194.2" y="328.3" class="ds" textLength="70.8" lengthAdjust="spacing" xml:space="preserve">desk set  -leather</text>
<text x="194.2" y="336.5" class="bx" textLength="67.9" lengthAdjust="spacing">BEX-039B-D10L/R</text>
<text x="194.2" y="344.8" class="sz" textLength="68.4" lengthAdjust="spacing">2200x2100x750MM</text>
<text x="194.2" y="352.6" class="sz" textLength="68.4" lengthAdjust="spacing">2400x2100x750MM</text>
<text x="194.2" y="360.4" class="sz" textLength="68.4" lengthAdjust="spacing">2600x2200x750MM</text>
<text x="28.3" y="439.7" class="ds" textLength="33.6" lengthAdjust="spacing">desk set</text>
<text x="28.3" y="447.9" class="bx" textLength="67.9" lengthAdjust="spacing">BEX-039B-D11L/R</text>
<text x="28.3" y="456.2" class="sz" textLength="68.4" lengthAdjust="spacing">2200x2100x750MM</text>
<text x="28.3" y="464" class="sz" textLength="68.4" lengthAdjust="spacing">2400x2100x750MM</text>
<text x="28.3" y="471.8" class="sz" textLength="68.4" lengthAdjust="spacing">2600x2200x750MM</text>
<text x="194.2" y="439.7" class="ds" textLength="70.8" lengthAdjust="spacing" xml:space="preserve">desk set  -leather</text>
<text x="194.2" y="447.9" class="bx" textLength="67.9" lengthAdjust="spacing">BEX-039B-D12L/R</text>
<text x="194.2" y="456.2" class="sz" textLength="68.4" lengthAdjust="spacing">2200x2100x750MM</text>
<text x="194.2" y="464" class="sz" textLength="68.4" lengthAdjust="spacing">2400x2100x750MM</text>
<text x="194.2" y="471.8" class="sz" textLength="68.4" lengthAdjust="spacing">2600x2200x750MM</text>
</svg>
</body>
</html>
